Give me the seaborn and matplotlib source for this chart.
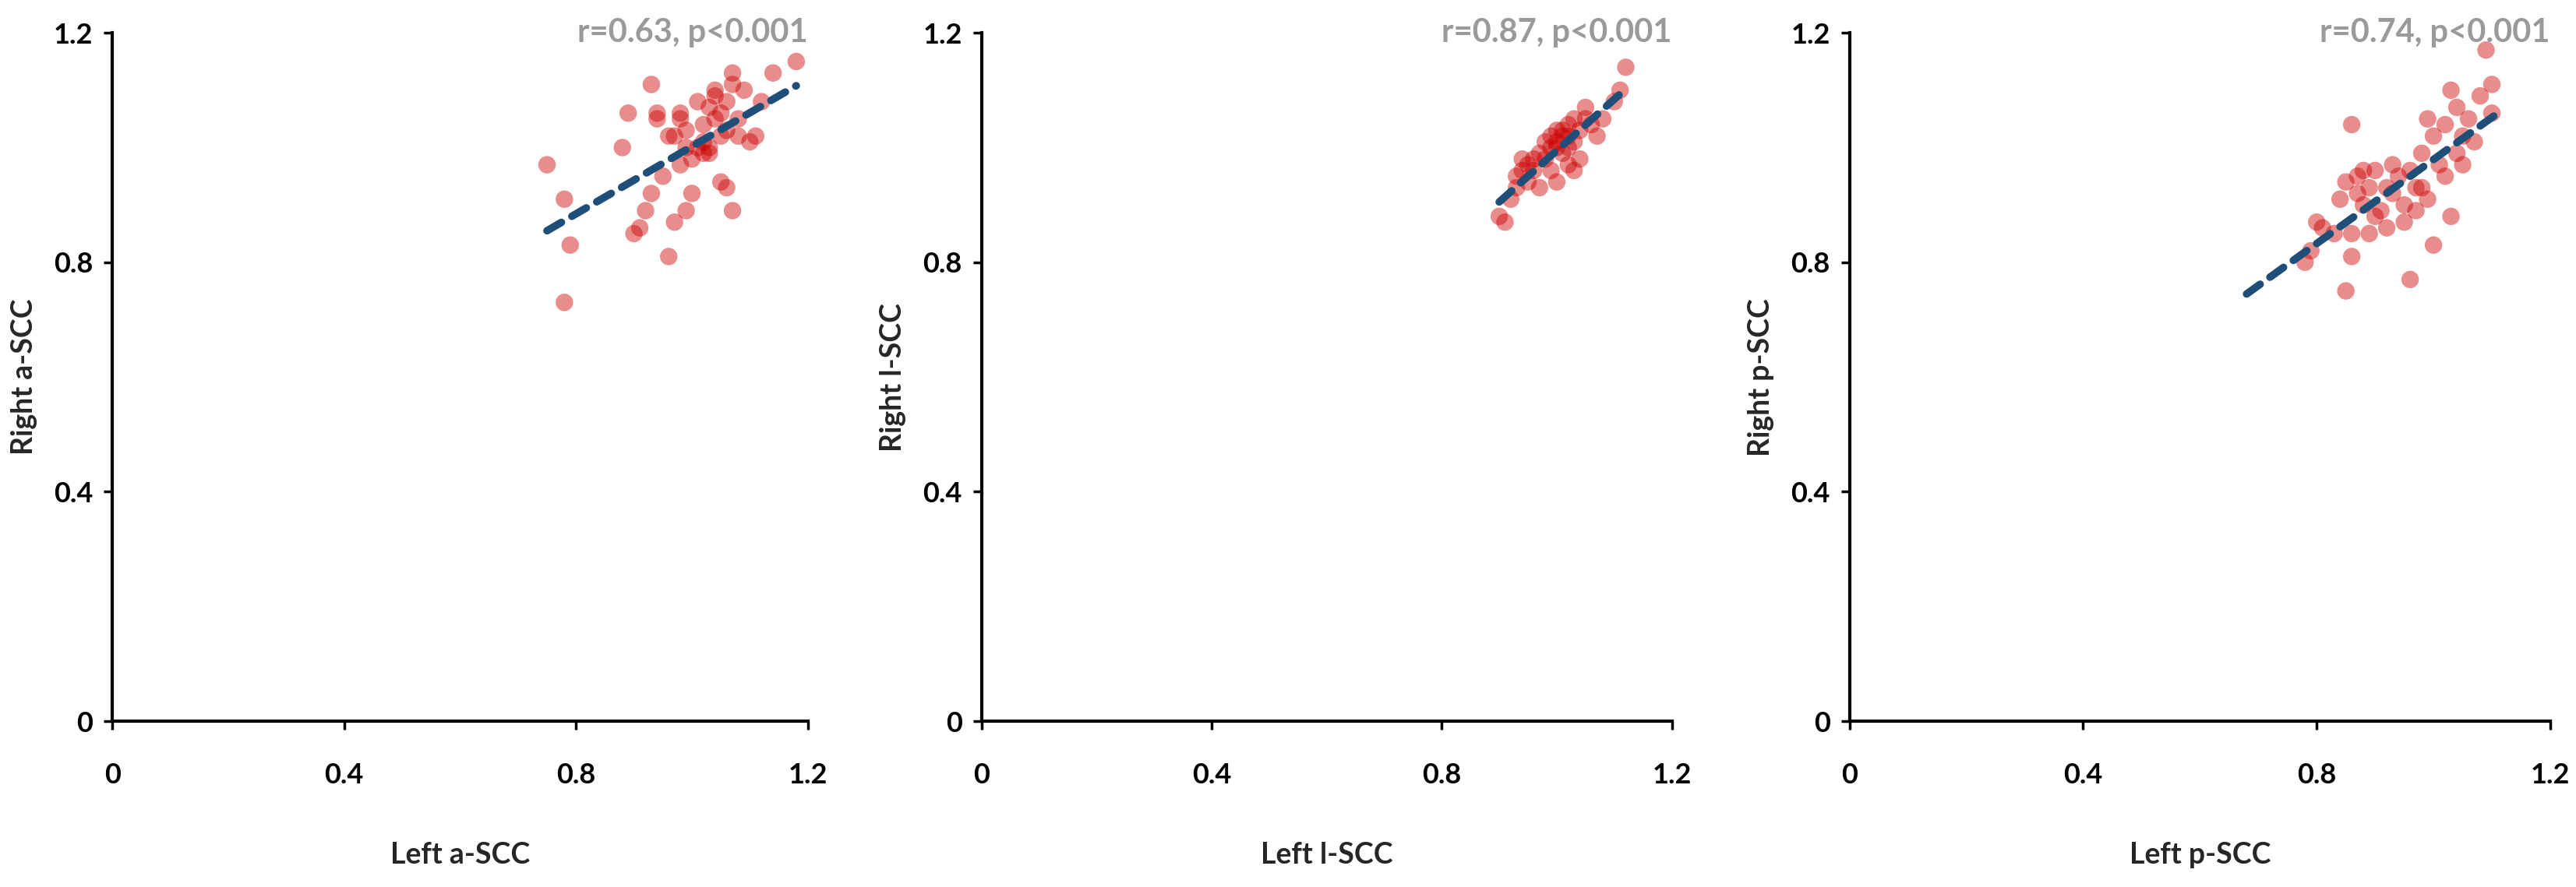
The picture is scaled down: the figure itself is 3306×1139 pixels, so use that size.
import numpy as np
import matplotlib
matplotlib.use("Agg")
import matplotlib.pyplot as plt
import seaborn as sns

sns.set_style("white")
plt.rcParams['font.family'] = ['Lato', 'DejaVu Sans']

a_x = [0.75,0.78,0.78,0.79,0.88,0.89,0.90,0.91,0.92,0.93,0.93,0.94,0.94,0.95,0.96,0.97,0.97,0.98,0.98,0.98,0.99,0.99,1.00,1.00,1.01,1.01,1.02,1.02,1.03,1.03,1.04,1.04,1.04,1.05,1.05,1.05,1.06,1.06,1.07,1.07,1.07,1.08,1.09,1.10,1.11,1.12,1.14,1.18,0.96,1.02,1.03,0.99,1.06,1.08]
a_y = [0.97,0.91,0.73,0.83,1.00,1.06,0.85,0.86,0.89,1.11,0.92,1.05,1.06,0.95,0.81,0.87,1.02,0.97,1.06,1.05,1.03,0.89,0.98,0.92,1.08,1.00,1.04,0.99,1.07,1.00,1.09,1.10,1.05,1.06,1.02,0.94,1.08,0.93,1.13,1.11,0.89,1.05,1.10,1.01,1.02,1.08,1.13,1.15,1.02,1.01,0.99,1.00,1.03,1.02]
l_x = [0.90,0.91,0.92,0.93,0.93,0.94,0.94,0.95,0.95,0.96,0.96,0.97,0.97,0.98,0.98,0.99,0.99,1.00,1.00,1.00,1.01,1.01,1.02,1.02,1.02,1.03,1.03,1.03,1.04,1.04,1.05,1.05,1.06,1.07,1.08,1.10,1.11,1.12,1.01,0.99,1.02,1.00]
l_y = [0.88,0.87,0.91,0.93,0.95,0.96,0.98,0.94,0.97,0.98,0.96,0.93,0.99,1.01,0.98,1.02,0.96,1.00,0.94,1.03,1.02,0.99,1.04,1.00,0.97,1.05,1.01,0.96,1.03,0.98,1.05,1.07,1.04,1.02,1.05,1.08,1.10,1.14,1.03,1.00,1.02,1.01]
p_x = [0.78,0.79,0.80,0.81,0.83,0.84,0.85,0.85,0.86,0.86,0.86,0.87,0.87,0.88,0.88,0.89,0.89,0.90,0.90,0.91,0.92,0.92,0.93,0.94,0.95,0.96,0.96,0.97,0.97,0.98,0.99,0.99,1.00,1.00,1.01,1.02,1.02,1.03,1.03,1.04,1.04,1.05,1.05,1.06,1.07,1.08,1.09,1.10,1.10,0.95,0.93,0.98]
p_y = [0.80,0.82,0.87,0.86,0.85,0.91,0.75,0.94,1.04,0.85,0.81,0.95,0.92,0.96,0.90,0.85,0.93,0.88,0.96,0.89,0.93,0.86,0.97,0.95,0.90,0.96,0.77,0.93,0.89,0.99,1.05,0.91,1.02,0.83,0.97,1.04,0.95,1.10,0.88,1.07,0.99,1.02,0.97,1.05,1.01,1.09,1.17,1.11,1.06,0.87,0.92,0.93]

xlabels = ["Left a-SCC", "Left l-SCC", "Left p-SCC"]
ylabels = ["Right a-SCC", "Right l-SCC", "Right p-SCC"]
stats = ["r=0.63, p<0.001", "r=0.87, p<0.001", "r=0.74, p<0.001"]
line_ranges = [(0.75, 1.18), (0.90, 1.12), (0.68, 1.11)]
ticks = [0, 0.4, 0.8, 1.2]
ticklabels = ["0", "0.4", "0.8", "1.2"]

fig = plt.figure(figsize=(33.06, 11.39), dpi=100)
rects = [(0.0436, 0.187, 0.270, 0.776), (0.381, 0.187, 0.268, 0.776), (0.718, 0.187, 0.272, 0.776)]
data = [(a_x, a_y), (l_x, l_y), (p_x, p_y)]
for i, (r, (x, y)) in enumerate(zip(rects, data)):
    ax = fig.add_axes(r)
    sns.scatterplot(x=x, y=y, ax=ax, color="#cc0000", alpha=0.45, s=260, edgecolor="none")
    m, b = np.polyfit(x, y, 1)
    lx = np.array(line_ranges[i])
    ax.plot(lx, m * lx + b, color="#1f4e79", lw=7, ls=(0, (2.2, 1.6)), solid_capstyle="round", dash_capstyle="round")
    ax.set_xlim(0, 1.2)
    ax.set_ylim(0, 1.2)
    ax.set_xticks(ticks)
    ax.set_yticks(ticks)
    ax.set_xticklabels(ticklabels, fontsize=26, fontweight="bold")
    ax.set_yticklabels(ticklabels, fontsize=26, fontweight="bold")
    ax.tick_params(axis="both", direction="out", length=8, width=2.5, colors="black", pad=10, left=True, bottom=True)
    ax.tick_params(axis="x", pad=30)
    for s in ["top", "right"]:
        ax.spines[s].set_visible(False)
    for s in ["left", "bottom"]:
        ax.spines[s].set_linewidth(3)
        ax.spines[s].set_color("black")
    ax.set_xlabel(xlabels[i], fontsize=27, fontweight="bold", labelpad=50)
    ax.set_ylabel(ylabels[i], fontsize=27, fontweight="bold", labelpad=15)
    ax.text(1.2, 1.2, stats[i], ha="right", va="center", fontsize=30, fontweight="bold", color="#9a9a9a")

fig.savefig("out.png", dpi=100)
